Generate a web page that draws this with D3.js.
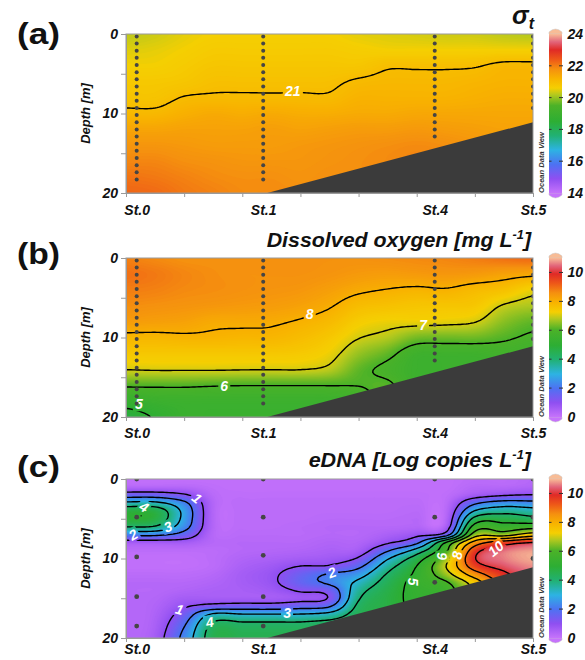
<!DOCTYPE html>
<html><head><meta charset="utf-8">
<script src="https://cdn.jsdelivr.net/npm/d3@7"></script>
<style>
body{margin:0;background:#fff}
svg{display:block}
text{font-family:"Liberation Sans",Arial,sans-serif}
</style>
</head><body>
<svg id="chart" width="585" height="660"></svg>
<script>
// ================= DATA =================
const gridDistance = [0,5,10,15,20,25,30,35,40,45,50,55,60,65,70];
const depthAB = [0,2,4,6,8,10,12,14,16,18,20];
const depthC = [0,1,2,3,4,5,6,7,8,9,10,11,12,13,14,15,16,17,18,19,20];

const stationNames = ["St.0","St.1","St.4","St.5"];
const stationDistance = [1.84, 23.6, 53.1, 70];

const seafloorDistance = [24.3, 70];
const seafloorDepth = [20, 11.1];

// sigma-t, one array per grid column (depth 0..20 step 2)
const sigmaT = [
 [20.25,20.45,20.6,20.75,20.85,21.1,21.45,21.7,21.9,22.1,22.25],
 [20.35,20.5,20.6,20.75,20.85,21.1,21.45,21.7,21.9,22.05,22.2],
 [20.5,20.6,20.7,20.8,21.02,21.25,21.5,21.65,21.8,21.95,22.05],
 [20.6,20.7,20.8,20.92,21.05,21.35,21.5,21.6,21.75,21.85,21.95],
 [20.6,20.7,20.8,20.92,21.05,21.3,21.5,21.6,21.7,21.8,21.85],
 [20.6,20.7,20.8,20.92,21.05,21.35,21.55,21.6,21.7,21.8,21.85],
 [20.6,20.7,20.8,20.92,21.05,21.3,21.5,21.65,21.7,21.75,21.8],
 [20.6,20.7,20.8,20.93,21.05,21.3,21.55,21.7,21.75,21.8,21.8],
 [20.5,20.65,20.8,21.05,21.2,21.35,21.6,21.75,21.8,21.8,21.8],
 [20.45,20.6,20.95,21.1,21.2,21.35,21.6,21.8,21.85,21.8,21.8],
 [20.4,20.6,20.95,21.1,21.2,21.4,21.65,21.85,21.9,21.85,21.8],
 [20.35,20.6,20.95,21.1,21.2,21.4,21.6,21.8,21.85,21.8,21.8],
 [20.35,20.6,20.97,21.15,21.25,21.4,21.55,21.7,21.8,21.8,21.8],
 [20.25,20.6,21.1,21.2,21.3,21.4,21.5,21.6,21.7,21.7,21.7],
 [20.2,20.6,21.1,21.2,21.3,21.4,21.5,21.6,21.7,21.7,21.7]
];

// dissolved oxygen [mg/L] (depth 0..20 step 2)
const dissolvedOxygen = [
 [8.75,8.95,8.8,8.6,8.35,7.85,7.45,7.02,6.1,5.3,4.75],
 [8.65,8.85,8.75,8.55,8.3,7.85,7.45,7.05,6.1,5.45,5.05],
 [8.55,8.7,8.65,8.5,8.25,7.9,7.45,7.05,6.1,5.5,5.4],
 [8.55,8.6,8.6,8.45,8.1,7.9,7.45,7.05,6.05,5.5,5.4],
 [8.55,8.55,8.55,8.4,8.1,7.85,7.45,7.03,6.02,5.5,5.4],
 [8.55,8.55,8.5,8.35,8.07,7.85,7.45,7.02,6.02,5.5,5.4],
 [8.55,8.55,8.45,8.25,7.95,7.7,7.4,7.02,6.02,5.5,5.4],
 [8.55,8.5,8.3,8.05,7.75,7.45,7.2,6.85,6.02,5.5,5.4],
 [8.55,8.4,8.1,7.7,7.35,7.03,6.6,6.2,6.02,5.6,5.4],
 [8.6,8.35,7.98,7.6,7.2,6.8,6.2,5.85,6.1,6.2,6.2],
 [8.65,8.4,7.9,7.5,7.2,6.35,5.6,5.5,5.5,5.5,5.5],
 [8.7,8.45,7.95,7.5,7.15,6.3,5.6,5.5,5.5,5.5,5.5],
 [8.8,8.4,7.75,7.45,7.03,6.3,5.6,5.5,5.5,5.5,5.5],
 [8.95,8.25,7.6,6.95,6.5,6.1,5.7,5.5,5.5,5.5,5.5],
 [9.05,8.15,7.2,6.75,6.2,5.9,5.6,5.5,5.5,5.5,5.5]
];

// eDNA [log copies/L] (depth 0..20 step 1)
const eDNA = [
 [0.1,0.3,1.5,3.2,4.7,4.9,4.05,2.2,0.6,0.2,0.1,0.1,0.2,0.3,0.3,0.3,0.3,0.3,0.3,0.3,0.3],
 [0.1,0.3,1.5,3.2,4.6,4.7,3.9,2.2,0.6,0.2,0.1,0.1,0.2,0.3,0.3,0.35,0.4,0.45,0.5,0.55,0.6],
 [0.1,0.3,1.1,2.2,2.7,2.7,2.4,1.6,0.6,0.2,0.1,0.1,0.2,0.3,0.4,0.6,0.9,1.4,1.8,2.1,2.3],
 [0.1,0.15,0.25,0.35,0.35,0.35,0.35,0.3,0.3,0.2,0.2,0.2,0.3,0.4,0.5,0.6,1.3,3.1,4.02,4.4,4.5],
 [0.1,0.1,0.15,0.2,0.2,0.2,0.2,0.25,0.3,0.3,0.4,0.5,0.6,0.6,0.55,0.6,1.4,3.02,4.02,4.4,4.5],
 [0.1,0.1,0.15,0.2,0.2,0.2,0.2,0.25,0.3,0.35,0.5,0.7,0.85,0.85,0.7,0.6,1.4,3.02,4.02,4.4,4.5],
 [0.1,0.1,0.15,0.2,0.2,0.2,0.25,0.25,0.3,0.4,0.6,1.02,1.5,1.6,1.1,0.75,1.6,3.02,4.02,4.4,4.5],
 [0.1,0.1,0.15,0.2,0.2,0.25,0.3,0.3,0.4,0.5,0.7,1.1,2.1,2.2,1.4,1.1,1.9,3.3,4.2,4.5,4.6],
 [0.1,0.1,0.15,0.2,0.2,0.25,0.3,0.3,0.4,0.6,1.1,1.8,2.6,3.2,3.6,3.9,4.2,4.4,4.5,4.5,4.5],
 [0.1,0.1,0.15,0.2,0.2,0.25,0.3,0.5,0.9,1.9,2.9,3.6,4.1,4.4,4.6,4.7,4.7,4.7,4.7,4.7,4.7],
 [0.1,0.1,0.15,0.2,0.25,0.3,0.35,0.8,1.8,3.4,4.5,5.02,5.2,5.3,5.25,5.2,5.2,5.2,5.2,5.2,5.2],
 [0.1,0.1,0.15,0.2,0.25,0.3,0.5,1.5,5.05,5.8,6.6,6.98,6.6,5.9,5.6,5.5,5.5,5.5,5.5,5.5,5.5],
 [0.2,0.3,0.6,1.8,3.02,4.3,5.4,6.5,8.4,9.6,9.95,9.5,8.5,7.5,7.2,7.2,7.2,7.2,7.2,7.2,7.2],
 [0.2,0.3,0.9,2.4,3.6,4.6,5.4,6.6,9.5,10.5,10.6,10.3,9.8,9.5,9.5,9.5,9.5,9.5,9.5,9.5,9.5],
 [0.3,0.4,1.02,2.3,3.4,4.3,5.6,7.5,10.05,10.8,10.9,10.7,10.5,10.5,10.5,10.5,10.5,10.5,10.5,10.5,10.5]
];

// CTD sampling depth bins and deepest bin reached per station
const ctdBins = [0.3,1.2,2.1,3.0,3.9,4.8,5.7,6.6,7.5,8.4,9.3,10.2,11.1,12.0,12.9,13.8,14.7,15.6,16.5,17.4,18.3];
const ctdMaxDepthA = [18.3,18.3,12.9,9.3];
const ctdMaxDepthB = [18.3,18.3,12.9,10.2];
// eDNA water sampling depths per station
const eDNASampleDepths = [[0,4.8,9.8,14.8,18.5],[0,4.8,9.6,14.8,18.5],[0,4.8,13],[0,4.8,10]];

// contour levels and labels
const levelsA = [21];
const levelsB = [5,6,7,8];
const levelsC = [1,2,3,4,5,6,7,8,9,10];
const labelsA = [{t:"21",d:28.7,z:7.2,r:0}];
const labelsB = [{t:"8",d:31.6,z:7.1,r:0},{t:"7",d:51.1,z:8.4,r:0},{t:"6",d:16.9,z:16.1,r:0},{t:"5",d:2.2,z:18.4,r:0}];
const labelsC = [
 {t:"1",d:12.2,z:2.4,r:40},{t:"4",d:3.1,z:3.5,r:30},{t:"3",d:7.2,z:6.0,r:-20},{t:"2",d:1.2,z:7.0,r:-30},
 {t:"1",d:9.2,z:16.4,r:15},{t:"4",d:14.4,z:18.0,r:-10},{t:"3",d:27.7,z:16.8,r:0},{t:"2",d:35.4,z:11.75,r:-20},
 {t:"5",d:49.4,z:12.9,r:90},{t:"6",d:54.4,z:9.75,r:-90},{t:"8",d:56.9,z:9.6,r:-80},{t:"10",d:63.6,z:8.75,r:-40}
];

const colorbarTicksA = [14,16,18,20,22,24];
const colorbarTicksBC = [0,2,4,6,8,10];

// ODV-like palette
const paletteStops = [0,0.09,0.18,0.27,0.36,0.45,0.55,0.62,0.66,0.72,0.78,0.84,0.90,0.95,1];
const paletteColors = ["#c673fb","#8f4ff1","#4d72f2","#2db3e3","#21b174","#2dae34","#4cb228","#b6c91e","#f5cf02","#f8b300","#f5900f","#ee5818","#e02a26","#e2647a","#f8bc96"];

// ================= DRAWING =================
const svg = d3.select("#chart");
const defs = svg.append("defs");
const X0 = 126, PW = 407, PH = 159;
const xS = d3.scaleLinear().domain([0,70]).range([X0, X0+PW]);

function catmull(p0,p1,p2,p3,t){
  return 0.5*((2*p1)+(-p0+p2)*t+(2*p0-5*p1+4*p2-p3)*t*t+(-p0+3*p1-3*p2+p3)*t*t*t);
}
function sampler(xs, zs, grid){
  const nx = xs.length, nz = zs.length;
  return (d,z)=>{
    let fx = (d-xs[0])/(xs[1]-xs[0]); fx = Math.max(0,Math.min(nx-1,fx));
    let fz = (z-zs[0])/(zs[1]-zs[0]); fz = Math.max(0,Math.min(nz-1,fz));
    const ix = Math.min(nx-2,Math.floor(fx)), iz = Math.min(nz-2,Math.floor(fz));
    const tx = fx-ix, tz = fz-iz;
    const col = k => {
      const c = grid[Math.max(0,Math.min(nx-1,k))];
      const g = j => c[Math.max(0,Math.min(nz-1,j))];
      return catmull(g(iz-1),g(iz),g(iz+1),g(iz+2),tz);
    };
    return catmull(col(ix-1),col(ix),col(ix+1),col(ix+2),tx);
  };
}

const panels = [
 {key:"a", top:34, grid:sigmaT, depths:depthAB, domain:[14,24], cbTicks:colorbarTicksA, levels:levelsA, labels:labelsA,
  dots: stationDistance.map((d,i)=>ctdBins.filter(z=>z<=ctdMaxDepthA[i]).map(z=>({d,z}))).flat(), letter:"(a)", letterY:43.7, stPad:12, dotR:2},
 {key:"b", top:258, grid:dissolvedOxygen, depths:depthAB, domain:[0,11], cbTicks:colorbarTicksBC, levels:levelsB, labels:labelsB,
  dots: stationDistance.map((d,i)=>ctdBins.filter(z=>z<=ctdMaxDepthB[i]).map(z=>({d,z}))).flat(), letter:"(b)", letterY:263.7, stPad:11, dotR:2},
 {key:"c", top:479, grid:eDNA, depths:depthC, domain:[0,11], cbTicks:colorbarTicksBC, levels:levelsC, labels:labelsC,
  dots: stationDistance.map((d,i)=>eDNASampleDepths[i].map(z=>({d,z}))).flat(), letter:"(c)", letterY:477, stPad:6.5, dotR:2.4}
];

const FONT = '"Liberation Sans",Arial,sans-serif';

panels.forEach(p=>{
  const yS = d3.scaleLinear().domain([0,20]).range([p.top, p.top+PH]);
  const color = d3.scaleLinear()
    .domain(paletteStops.map(s=>p.domain[0]+s*(p.domain[1]-p.domain[0])))
    .range(paletteColors).clamp(true);
  const f = sampler(gridDistance, p.depths, p.grid);
  const nxIn = 204, nyIn = 80, pad = 2, nx = nxIn+2*pad, ny = nyIn+2*pad;
  const cw = PW/nxIn, ch = PH/nyIn;
  const vals = new Float64Array(nx*ny);
  for(let j=0;j<ny;j++) for(let i=0;i<nx;i++){
    const d = (i-pad+0.5)/nxIn*70, z = (j-pad+0.5)/nyIn*20;
    vals[j*nx+i] = f(d,z);
  }
  const clipId = "clip"+p.key;
  defs.append("clipPath").attr("id",clipId).append("rect")
    .attr("x",X0).attr("y",p.top).attr("width",PW).attr("height",PH);

  const g = svg.append("g");
  const plot = g.append("g").attr("clip-path",`url(#${clipId})`);
  const [mn,mx] = d3.extent(vals);
  const step = (p.domain[1]-p.domain[0])/260;
  const thr = d3.range(Math.ceil(mn/step)*step, mx, step);
  plot.append("rect").attr("x",X0).attr("y",p.top).attr("width",PW).attr("height",PH).attr("fill",color(mn));
  const tf = `translate(${X0-pad*cw},${p.top-pad*ch}) scale(${cw},${ch})`;
  const path = d3.geoPath();
  plot.append("g").attr("transform",tf)
    .selectAll("path").data(d3.contours().size([nx,ny]).thresholds(thr)(vals)).join("path")
    .attr("d",path).attr("fill",d=>color(d.value+step/2));

  // mask for label gaps
  const mask = defs.append("mask").attr("id","mask"+p.key).attr("maskUnits","userSpaceOnUse")
    .attr("x",0).attr("y",0).attr("width",585).attr("height",660);
  mask.append("rect").attr("x",0).attr("y",0).attr("width",585).attr("height",660).attr("fill","white");
  p.labels.forEach(l=>{
    const w = 8*l.t.length+4;
    mask.append("rect").attr("x",-w/2).attr("y",-7).attr("width",w).attr("height",14)
      .attr("transform",`translate(${xS(l.d)},${yS(l.z)}) rotate(${l.r})`).attr("fill","black");
  });
  plot.append("g").attr("mask",`url(#mask${p.key})`).append("g").attr("transform",tf)
    .selectAll("path").data(d3.contours().size([nx,ny]).thresholds(p.levels)(vals)).join("path")
    .attr("d",path).attr("fill","none").attr("stroke","#000").attr("stroke-width",1.4)
    .attr("vector-effect","non-scaling-stroke");

  plot.selectAll("text.cl").data(p.labels).join("text").attr("class","cl")
    .attr("transform",l=>`translate(${xS(l.d)},${yS(l.z)}) rotate(${l.r})`)
    .attr("text-anchor","middle").attr("dy","0.36em")
    .attr("fill","#fff").style("font-size","14px").style("font-weight","bold").style("font-style","italic")
    .text(l=>l.t);

  // seafloor
  const sf = seafloorDistance.map((d,i)=>[xS(d), yS(seafloorDepth[i])]);
  sf.push([xS(70), yS(20)+2]); sf.push([xS(seafloorDistance[0]), yS(20)+2]);
  plot.append("path").attr("d", d3.line()(sf)+"Z").attr("fill","#3b3b3b");

  // sample dots
  plot.selectAll("circle").data(p.dots).join("circle")
    .attr("cx",d=>xS(d.d)).attr("cy",d=>yS(d.z)).attr("r",p.dotR).attr("fill","#454545");

  // frame
  g.append("rect").attr("x",X0).attr("y",p.top).attr("width",PW).attr("height",PH)
    .attr("fill","none").attr("stroke","#9a9a9a").attr("stroke-width",1);

  // axes
  const ya = g.append("g").attr("transform",`translate(${X0},0)`)
    .call(d3.axisLeft(yS).tickValues([0,5,10,15,20]).tickSize(5).tickPadding(3).tickFormat(d=>d%10===0?d:""));
  ya.select(".domain").attr("stroke","#9a9a9a");
  ya.selectAll(".tick line").attr("stroke","#9a9a9a");
  ya.selectAll("text").style("font-family",FONT).style("font-size","14px").style("font-weight","bold").style("font-style","italic").attr("fill","#111");

  const xa = g.append("g").attr("transform",`translate(0,${p.top+PH})`)
    .call(d3.axisBottom(xS).tickValues([0,10,20,30,40,50,60,70]).tickSize(4).tickFormat(""));
  xa.select(".domain").attr("stroke","#9a9a9a");
  xa.selectAll(".tick line").attr("stroke","#9a9a9a");

  const xs = g.append("g").attr("transform",`translate(0,${p.top+PH})`)
    .call(d3.axisBottom(xS).tickValues(stationDistance).tickSize(0).tickPadding(p.stPad).tickFormat((d,i)=>stationNames[i]));
  xs.select(".domain").remove();
  xs.selectAll("text").style("font-family",FONT).style("font-size","14px").style("font-weight","bold").style("font-style","italic").attr("fill","#111");

  // y label
  g.append("text").attr("transform",`translate(89.5,${p.top+PH/2}) rotate(-90)`).attr("text-anchor","middle")
    .style("font-size","13px").style("font-weight","bold").style("font-style","italic").attr("fill","#111").text("Depth [m]");

  // Ocean Data View
  g.append("text").attr("transform",`translate(543.5,${p.top+PH}) rotate(-90)`)
    .style("font-size","7.6px").style("font-weight","bold").style("font-style","italic").attr("fill","#333").text("Ocean Data View");

  // colorbar
  const cbX = 549, cbW = 13;
  const cbS = d3.scaleLinear().domain(p.domain).range([p.top+PH, p.top]);
  const grad = defs.append("linearGradient").attr("id","grad"+p.key).attr("x1",0).attr("y1",1).attr("x2",0).attr("y2",0);
  paletteStops.forEach((s,i)=>grad.append("stop").attr("offset",s).attr("stop-color",paletteColors[i]));
  g.append("path").attr("d",`M${cbX},${p.top} L${cbX},${p.top-2} Q${cbX+cbW/2},${p.top-8} ${cbX+cbW},${p.top-2} L${cbX+cbW},${p.top} Z`)
    .attr("fill",paletteColors[paletteColors.length-1]).attr("stroke","#c8c8c8").attr("stroke-width",0.5);
  g.append("path").attr("d",`M${cbX},${p.top+PH} L${cbX},${p.top+PH+2} Q${cbX+cbW/2},${p.top+PH+8} ${cbX+cbW},${p.top+PH+2} L${cbX+cbW},${p.top+PH} Z`)
    .attr("fill",paletteColors[0]).attr("stroke","#c8c8c8").attr("stroke-width",0.5);
  g.append("rect").attr("x",cbX).attr("y",p.top).attr("width",cbW).attr("height",PH).attr("fill",`url(#grad${p.key})`);
  g.selectAll("line.cbt").data(p.cbTicks.filter(t=>t>p.domain[0]&&t<p.domain[1])).join("line").attr("class","cbt")
    .attr("x1",cbX+cbW-3).attr("x2",cbX+cbW+1).attr("y1",d=>cbS(d)).attr("y2",d=>cbS(d)).attr("stroke","#333").attr("stroke-width",1);
  g.selectAll("line.cbl").data(p.cbTicks.filter(t=>t>p.domain[0]&&t<p.domain[1])).join("line").attr("class","cbl")
    .attr("x1",cbX).attr("x2",cbX+2.5).attr("y1",d=>cbS(d)).attr("y2",d=>cbS(d)).attr("stroke","#333").attr("stroke-width",1);
  const ca = g.append("g").attr("transform",`translate(${cbX+cbW},0)`)
    .call(d3.axisRight(cbS).tickValues(p.cbTicks).tickSize(0).tickPadding(5.5));
  ca.select(".domain").remove();
  ca.selectAll("text").style("font-family",FONT).style("font-size","14px").style("font-weight","bold").style("font-style","italic").attr("fill","#111");

  // panel letter
  const lt = svg.append("text").attr("x",0).attr("y",0).style("font-size","30px").style("font-weight","bold").attr("fill","#111").text(p.letter);
  const lb = lt.node().getBBox();
  lt.attr("transform",`translate(17,${p.letterY}) scale(${43/lb.width},1)`);
});

// titles
function title(y, right, width, parts, size){
  const t = svg.append("text").attr("x",0).attr("y",0).attr("text-anchor","end")
    .style("font-size",size+"px").style("font-weight","bold").style("font-style","italic").attr("fill","#111");
  parts.forEach(pt=>{
    const ts = t.append("tspan").text(pt.s);
    if(pt.size) ts.style("font-size",pt.size+"px");
    if(pt.dy) ts.attr("dy",pt.dy);
  });
  const w = t.node().getBBox().width;
  const sx = width ? width/w : 1;
  t.attr("transform",`translate(${right},${y}) scale(${sx},1)`);
}
title(24, 534, null, [{s:"σ",size:25},{s:"t",size:16,dy:5}], 24);
title(247, 531, 266, [{s:"Dissolved oxygen [mg L"},{s:"-1",size:12,dy:-8},{s:"]",dy:8}], 20);
title(467, 531, 224, [{s:"eDNA [Log copies L"},{s:"-1",size:12,dy:-8},{s:"]",dy:8}], 20);
</script>
</body></html>
